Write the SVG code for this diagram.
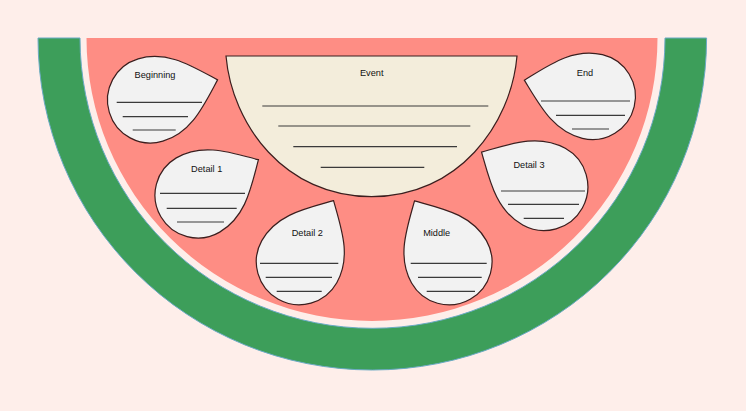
<svg xmlns="http://www.w3.org/2000/svg" width="746" height="411" viewBox="0 0 746 411">
<style>
.seed{fill:#f2f2f2;stroke:#3b1e1e;stroke-width:1.2}
.event{fill:#f3eddb;stroke:#3b1e1e;stroke-width:1.2}
.ln{stroke:#3a3a3a;stroke-width:1.2;fill:none}
.t{font-family:"Liberation Sans",Arial,sans-serif;font-size:9.2px;fill:#111;text-anchor:middle}
</style>
<defs>
<path id="drop" class="seed" d="M0,-70 C21,-49 43,-30 43,0 A43 43 0 0 1 -43,0 C-43,-30 -21,-49 0,-70 Z"/>
</defs>
<rect x="0" y="0" width="746" height="411" fill="#feeeea"/>
<g id="rind">
<path d="M38,38 A334.3 332 0 0 0 706.6,38 L665,38 A292.5 290.3 0 0 1 80,38 Z" fill="#3d9e5a" stroke="#6aaac4" stroke-width="1"/>
</g>
<g id="flesh">
<path d="M86.5,38 A285.5 283 0 0 0 657.5,38 Z" fill="#fe8d84"/>
</g>
<g id="event">
<path class="event" d="M226,56 L517,56 C511,125 458,196.7 371.5,196.7 C285,196.7 232,125 226,56 Z"/>
<text class="t" x="371.7" y="76">Event</text>
<line class="ln" x1="262.3" y1="106" x2="488.3" y2="106"/>
<line class="ln" x1="278.3" y1="126" x2="470.3" y2="126"/>
<line class="ln" x1="293.3" y1="146.7" x2="457" y2="146.7"/>
<line class="ln" x1="320.7" y1="167.3" x2="424.3" y2="167.3"/>
</g>
<g id="beginning">
<use href="#drop" transform="translate(150.5,100) rotate(73.3)"/>
<text class="t" x="155" y="78">Beginning</text>
<line class="ln" x1="116.7" y1="102.3" x2="202" y2="102.3"/>
<line class="ln" x1="122.7" y1="116.7" x2="188" y2="116.7"/>
<line class="ln" x1="132.7" y1="130" x2="175.7" y2="130"/>
</g>
<g id="end">
<use href="#drop" transform="translate(592.4,96.5) rotate(-76.5)"/>
<text class="t" x="585" y="76">End</text>
<line class="ln" x1="541" y1="101" x2="630" y2="101"/>
<line class="ln" x1="556" y1="115.3" x2="625" y2="115.3"/>
<line class="ln" x1="572" y1="129" x2="609" y2="129"/>
</g>
<g id="detail1">
<use href="#drop" transform="translate(198,195) rotate(59.7)"/>
<text class="t" x="206.7" y="172">Detail 1</text>
<line class="ln" x1="160" y1="193.3" x2="245" y2="193.3"/>
<line class="ln" x1="166.7" y1="208.3" x2="236.7" y2="208.3"/>
<line class="ln" x1="177" y1="222" x2="224" y2="222"/>
</g>
<g id="detail3">
<use href="#drop" transform="translate(544,186.7) rotate(-61) scale(1.02)"/>
<text class="t" x="529" y="168">Detail 3</text>
<line class="ln" x1="501" y1="191" x2="585" y2="191"/>
<line class="ln" x1="508" y1="204.3" x2="579" y2="204.3"/>
<line class="ln" x1="523.7" y1="218.3" x2="564" y2="218.3"/>
</g>
<g id="detail2">
<use href="#drop" transform="translate(299.3,261.7) rotate(29.3)"/>
<text class="t" x="307.3" y="236">Detail 2</text>
<line class="ln" x1="260" y1="263.3" x2="338.3" y2="263.3"/>
<line class="ln" x1="265.7" y1="277.3" x2="332" y2="277.3"/>
<line class="ln" x1="276.7" y1="291.3" x2="321.7" y2="291.3"/>
</g>
<g id="middle">
<use href="#drop" transform="translate(449,261.8) rotate(-29.5)"/>
<text class="t" x="436.7" y="236">Middle</text>
<line class="ln" x1="410.7" y1="263.3" x2="486.7" y2="263.3"/>
<line class="ln" x1="418" y1="277.3" x2="481.7" y2="277.3"/>
<line class="ln" x1="426.7" y1="291.3" x2="475" y2="291.3"/>
</g>
<g id="connectors"></g>
</svg>
